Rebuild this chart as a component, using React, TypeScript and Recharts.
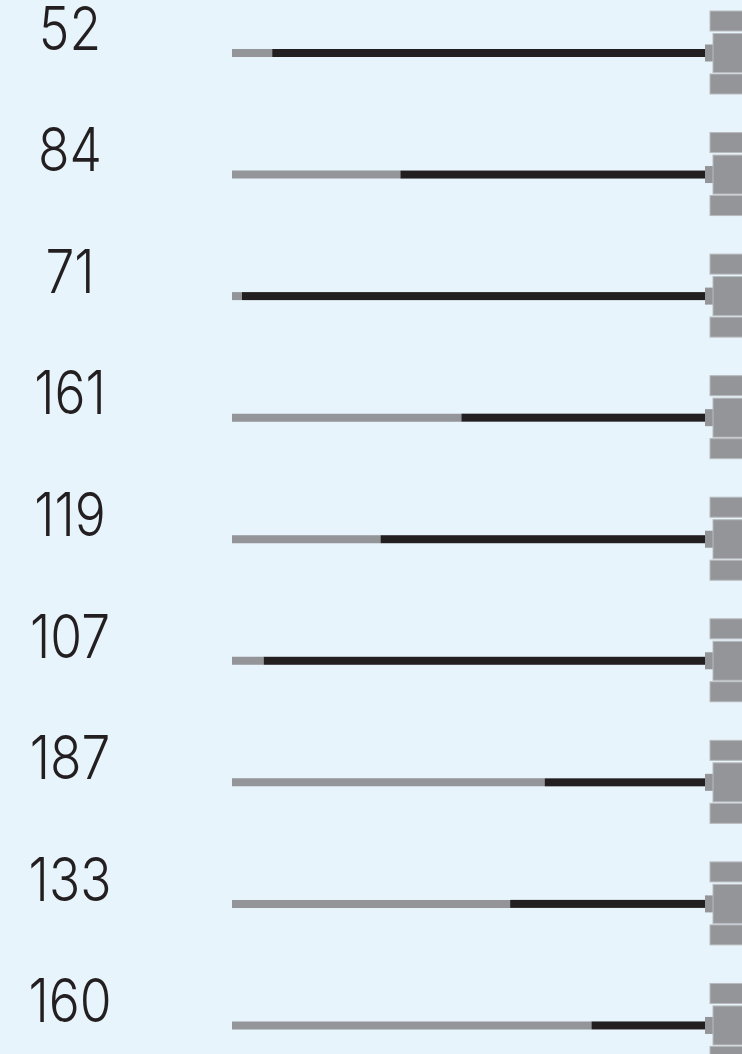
import React from 'react';
import { BarChart, Bar, XAxis, YAxis } from 'recharts';

// row labels, top to bottom
const rowLabels = ['52', '84', '71', '161', '119', '107', '187', '133', '160'];
// grey part of each cable, as % of the full length (black is the rest)
const grayShare = [8.5, 35.6, 2.1, 48.5, 31.4, 6.7, 66.1, 58.8, 76.0];

const rows = rowLabels.map((label, i) => ({
    label,
    gray: grayShare[i],
    black: 100 - grayShare[i],
}));

const BG = '#E8F4FC';
const GREY = '#939598';
const INK = '#231F20';

const LabelTick = ({ y, payload }: any) => (
    <text
        transform={`translate(70, ${y - 3}) scale(0.86, 1)`}
        textAnchor="middle"
        fontFamily="Inter, 'Noto Sans', sans-serif"
        fontWeight={350}
        fontSize={60}
        fill={INK}
    >
        {payload.value}
    </text>
);

// black segment plus the plug at its right end
const PlugBar = (props: any) => {
    const { x, y, width, height } = props;
    const xe = x + width;
    const cy = y + height / 2;
    const edge = '#B9BBBE';
    return (
        <g>
            <rect x={x} y={y} width={width} height={height} fill={INK} />
            <rect x={xe} y={cy - 8.5} width={9} height={17} fill={GREY} />
            <rect x={xe + 5} y={cy - 42} width={40} height={20} fill={GREY} stroke={edge} strokeWidth={1} />
            <rect x={xe + 8} y={cy - 19.5} width={40} height={39} fill={GREY} stroke={edge} strokeWidth={1} />
            <rect x={xe + 5} y={cy + 21} width={40} height={20} fill={GREY} stroke={edge} strokeWidth={1} />
        </g>
    );
};

export default function App() {
    return (
        <div style={{ width: 742, height: 1054, overflow: 'hidden', background: BG }}>
            <style>{'body{margin:0}'}</style>
            <div style={{ marginTop: -8 }}>
                <BarChart
                    width={742}
                    height={1094}
                    data={rows}
                    layout="vertical"
                    margin={{ top: 0, right: 37, bottom: 0, left: 0 }}
                >
                    <XAxis type="number" domain={[0, 100]} hide />
                    <YAxis
                        type="category"
                        dataKey="label"
                        width={232}
                        axisLine={false}
                        tickLine={false}
                        tick={<LabelTick />}
                        interval={0}
                    />
                    <Bar dataKey="gray" stackId="c" fill={GREY} barSize={8} isAnimationActive={false} />
                    <Bar dataKey="black" stackId="c" fill={INK} barSize={8} shape={<PlugBar />} isAnimationActive={false} />
                </BarChart>
            </div>
        </div>
    );
}
